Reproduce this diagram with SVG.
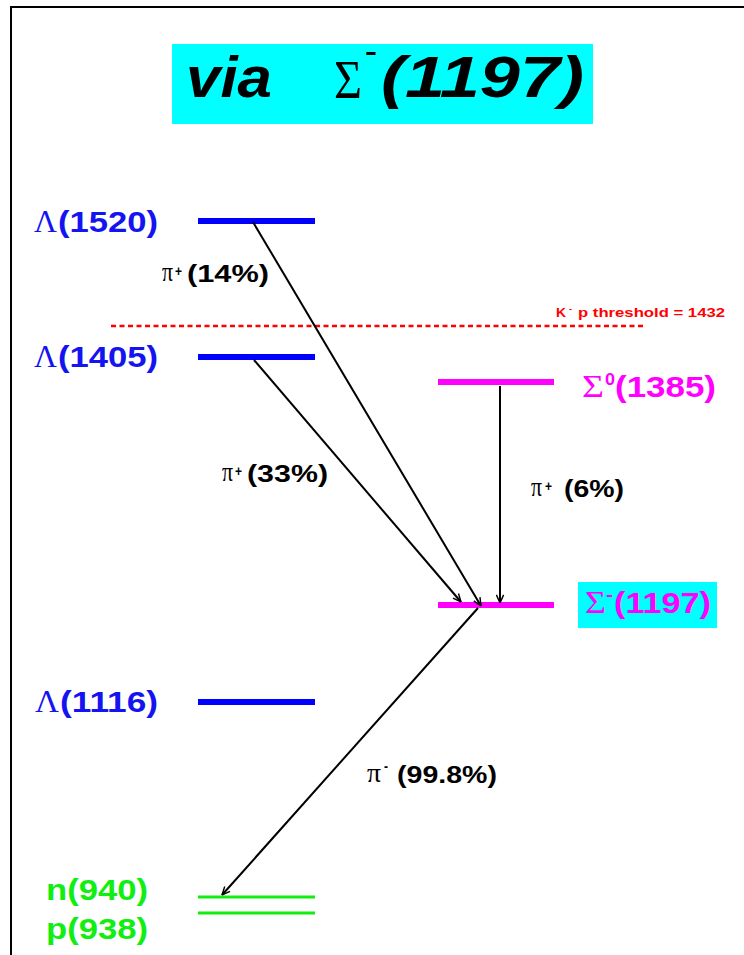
<svg xmlns="http://www.w3.org/2000/svg" width="744" height="955" viewBox="0 0 744 955">
<style>
.sans{font-family:"Liberation Sans",Arial,sans-serif;font-weight:bold}
.serif{font-family:"Liberation Serif","Times New Roman",serif;font-weight:normal}
.blue{fill:#1414F0}
.mag{fill:#FF00FF}
.grn{fill:#11EE11}
.blk{fill:#000}
.lvlB{stroke:#0000FF;stroke-width:6}
.lvlM{stroke:#FF00FF;stroke-width:6}
.lvlG{stroke:#11EE11;stroke-width:3}
.arr{stroke:#000;stroke-width:2;fill:none;marker-end:url(#ah)}
</style>
<defs>
<marker id="ah" viewBox="0 0 10 10" refX="10" refY="5" markerWidth="9" markerHeight="9" markerUnits="userSpaceOnUse" orient="auto">
<path d="M1,1 L10,5 L1,9" fill="none" stroke="#000" stroke-width="1.6"/>
</marker>
</defs>
<rect x="0" y="0" width="744" height="955" fill="#fff"/>
<rect x="11" y="7" width="800" height="1000" fill="none" stroke="#000" stroke-width="2"/>

<g id="title">
<rect x="172" y="44" width="421" height="80" fill="#00FFFF"/>
<text class="sans" x="186" y="97" font-size="58" font-style="italic" textLength="86" lengthAdjust="spacingAndGlyphs">via</text>
<text class="serif" x="334" y="98" font-size="54" textLength="28" lengthAdjust="spacingAndGlyphs">Σ</text>
<text class="sans" x="365" y="60" font-size="26" textLength="12" lengthAdjust="spacingAndGlyphs">-</text>
<text class="sans" x="381" y="97" font-size="58" font-style="italic" textLength="203" lengthAdjust="spacingAndGlyphs">(1197)</text>
</g>

<g id="threshold">
<line x1="111" y1="326" x2="646" y2="326" stroke="#FF0000" stroke-width="2.5" stroke-dasharray="5,3.5"/>
<text class="sans" x="556" y="317" font-size="13" fill="#FF0000" textLength="10" lengthAdjust="spacingAndGlyphs">K</text>
<text class="sans" x="569" y="312" font-size="9" fill="#FF0000">-</text>
<text class="sans" x="578" y="317" font-size="13" fill="#FF0000" textLength="147" lengthAdjust="spacingAndGlyphs">p threshold = 1432</text>
</g>

<g id="L1520">
<line class="lvlB" x1="198" y1="221" x2="315" y2="221"/>
<text class="serif blue" x="34" y="232" font-size="31" textLength="23" lengthAdjust="spacingAndGlyphs">Λ</text>
<text class="sans blue" x="58" y="232" font-size="29" textLength="100" lengthAdjust="spacingAndGlyphs">(1520)</text>
</g>
<g id="L1405">
<line class="lvlB" x1="198" y1="357" x2="315" y2="357"/>
<text class="serif blue" x="34" y="367" font-size="31" textLength="23" lengthAdjust="spacingAndGlyphs">Λ</text>
<text class="sans blue" x="58" y="367" font-size="29" textLength="100" lengthAdjust="spacingAndGlyphs">(1405)</text>
</g>
<g id="L1116">
<line class="lvlB" x1="198" y1="702" x2="315" y2="702"/>
<text class="serif blue" x="35" y="712" font-size="31" textLength="24" lengthAdjust="spacingAndGlyphs">Λ</text>
<text class="sans blue" x="60" y="712" font-size="29" textLength="98" lengthAdjust="spacingAndGlyphs">(1116)</text>
</g>

<g id="S1385">
<line class="lvlM" x1="438" y1="382" x2="554" y2="382"/>
<text class="serif mag" x="582" y="397" font-size="31" textLength="22" lengthAdjust="spacingAndGlyphs">Σ</text>
<text class="sans mag" x="605" y="385" font-size="17" textLength="10" lengthAdjust="spacingAndGlyphs">0</text>
<text class="sans mag" x="615" y="397" font-size="29" textLength="101" lengthAdjust="spacingAndGlyphs">(1385)</text>
</g>
<g id="S1197">
<line class="lvlM" x1="438" y1="605" x2="554" y2="605"/>
<rect x="578" y="582" width="139" height="46" fill="#00FFFF"/>
<text class="serif mag" x="585" y="613" font-size="31" textLength="21" lengthAdjust="spacingAndGlyphs">Σ</text>
<text class="sans mag" x="606" y="600" font-size="17" textLength="7" lengthAdjust="spacingAndGlyphs">-</text>
<text class="sans mag" x="614" y="613" font-size="29" textLength="97" lengthAdjust="spacingAndGlyphs">(1197)</text>
</g>

<g id="N940">
<line class="lvlG" x1="198" y1="897" x2="315" y2="897"/>
<text class="sans grn" x="46" y="900" font-size="29" textLength="102" lengthAdjust="spacingAndGlyphs">n(940)</text>
</g>
<g id="P938">
<line class="lvlG" x1="198" y1="913" x2="315" y2="913"/>
<text class="sans grn" x="46" y="939" font-size="29" textLength="102" lengthAdjust="spacingAndGlyphs">p(938)</text>
</g>

<g id="connectors">
<line class="arr" x1="253" y1="222" x2="481" y2="606"/>
<line class="arr" x1="254" y1="360" x2="461" y2="602"/>
<line class="arr" x1="500" y1="386" x2="500" y2="603"/>
<line class="arr" x1="478" y1="608" x2="222" y2="895"/>
</g>

<g id="labels">
<text class="serif blk" x="162" y="281" font-size="28" textLength="11" lengthAdjust="spacingAndGlyphs">π</text>
<text class="sans blk" x="175" y="276" font-size="15" textLength="7" lengthAdjust="spacingAndGlyphs">+</text>
<text class="sans blk" x="187" y="282" font-size="24" textLength="82" lengthAdjust="spacingAndGlyphs">(14%)</text>

<text class="serif blk" x="222" y="481" font-size="28" textLength="11" lengthAdjust="spacingAndGlyphs">π</text>
<text class="sans blk" x="235" y="476" font-size="15" textLength="7" lengthAdjust="spacingAndGlyphs">+</text>
<text class="sans blk" x="247" y="482" font-size="24" textLength="81" lengthAdjust="spacingAndGlyphs">(33%)</text>

<text class="serif blk" x="531" y="496" font-size="28" textLength="11" lengthAdjust="spacingAndGlyphs">π</text>
<text class="sans blk" x="545" y="491" font-size="15" textLength="7" lengthAdjust="spacingAndGlyphs">+</text>
<text class="sans blk" x="564" y="497" font-size="24" textLength="60" lengthAdjust="spacingAndGlyphs">(6%)</text>

<text class="serif blk" x="367" y="782" font-size="28" textLength="14" lengthAdjust="spacingAndGlyphs">π</text>
<text class="sans blk" x="384" y="771" font-size="15" textLength="4" lengthAdjust="spacingAndGlyphs">-</text>
<text class="sans blk" x="397" y="783" font-size="24" textLength="100" lengthAdjust="spacingAndGlyphs">(99.8%)</text>
</g>
</svg>
